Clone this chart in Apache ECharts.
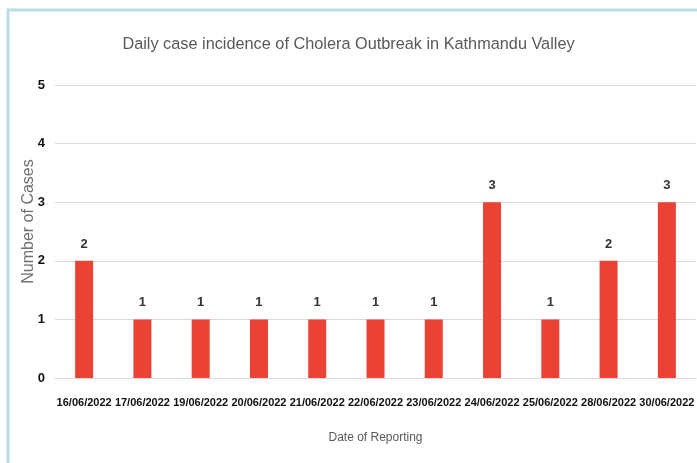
<!DOCTYPE html>
<html>
<head>
  <meta charset="utf-8">
  <title>ECharts</title>
  <script src="https://cdn.jsdelivr.net/npm/echarts@6/dist/echarts.min.js"></script>
</head>
<style>
  * {
    padding: 0;
    margin: 0;
  }

  #main {
    width: 697px;
    height: 463px;
    overflow: hidden;
    background: #fff;
  }
</style>
<body>
  <div id="main"></div>
  <script type="text/javascript">
    // data
    var dates = ['16/06/2022', '17/06/2022', '19/06/2022', '20/06/2022', '21/06/2022', '22/06/2022',
      '23/06/2022', '24/06/2022', '25/06/2022', '28/06/2022', '30/06/2022'];
    var cases = [2, 1, 1, 1, 1, 1, 1, 3, 1, 2, 3];
    var yTicks = [0, 1, 2, 3, 4, 5];

    var sans = '"Liberation Sans", Arial, sans-serif';

    var option = {
      animation: false,
      title: {
        text: 'Daily case incidence of Cholera Outbreak in Kathmandu Valley',
        left: 'center',
        top: 32,
        textStyle: { fontFamily: sans, fontSize: 16.3, fontWeight: 'normal', color: '#595959' }
      },
      graphic: [{
        type: 'rect',
        shape: { x: 8, y: 10, width: 720, height: 480 },
        style: { fill: null, stroke: '#b7dde6', lineWidth: 3 },
        silent: true
      }],
      grid: { left: 55, right: 1, top: 85, bottom: 85, containLabel: false, outerBoundsMode: 'none' },
      xAxis: {
        type: 'category',
        data: dates,
        name: 'Date of Reporting',
        nameLocation: 'middle',
        nameGap: 54,
        nameTextStyle: { fontFamily: sans, fontSize: 12, color: '#595959' },
        axisLine: { lineStyle: { color: '#d9d9d9' } },
        axisTick: { show: false },
        axisLabel: {
          interval: 0, margin: 19,
          fontFamily: sans, fontSize: 11, fontWeight: 'bold', color: '#111'
        }
      },
      yAxis: {
        type: 'value',
        min: yTicks[0],
        max: yTicks[yTicks.length - 1],
        interval: 1,
        name: 'Number of Cases',
        nameLocation: 'middle',
        nameGap: 18,
        nameMoveOverlap: false,
        nameTextStyle: { fontFamily: sans, fontSize: 16, color: '#707070', padding: [0, 0, 0, 20] },
        axisLine: { show: false },
        axisTick: { show: false },
        splitLine: { lineStyle: { color: '#d9d9d9' } },
        axisLabel: { margin: 10, fontFamily: sans, fontSize: 13, fontWeight: 'bold', color: '#111' }
      },
      series: [{
        type: 'bar',
        data: cases,
        barWidth: 18,
        itemStyle: { color: '#ea4335' },
        label: {
          show: true, position: 'top', distance: 10,
          fontFamily: sans, fontSize: 13, fontWeight: 'bold', color: '#333'
        }
      }]
    };

    var myChart = echarts.init(document.getElementById('main'));
    myChart.setOption(option);
  </script>
</body>
</html>
